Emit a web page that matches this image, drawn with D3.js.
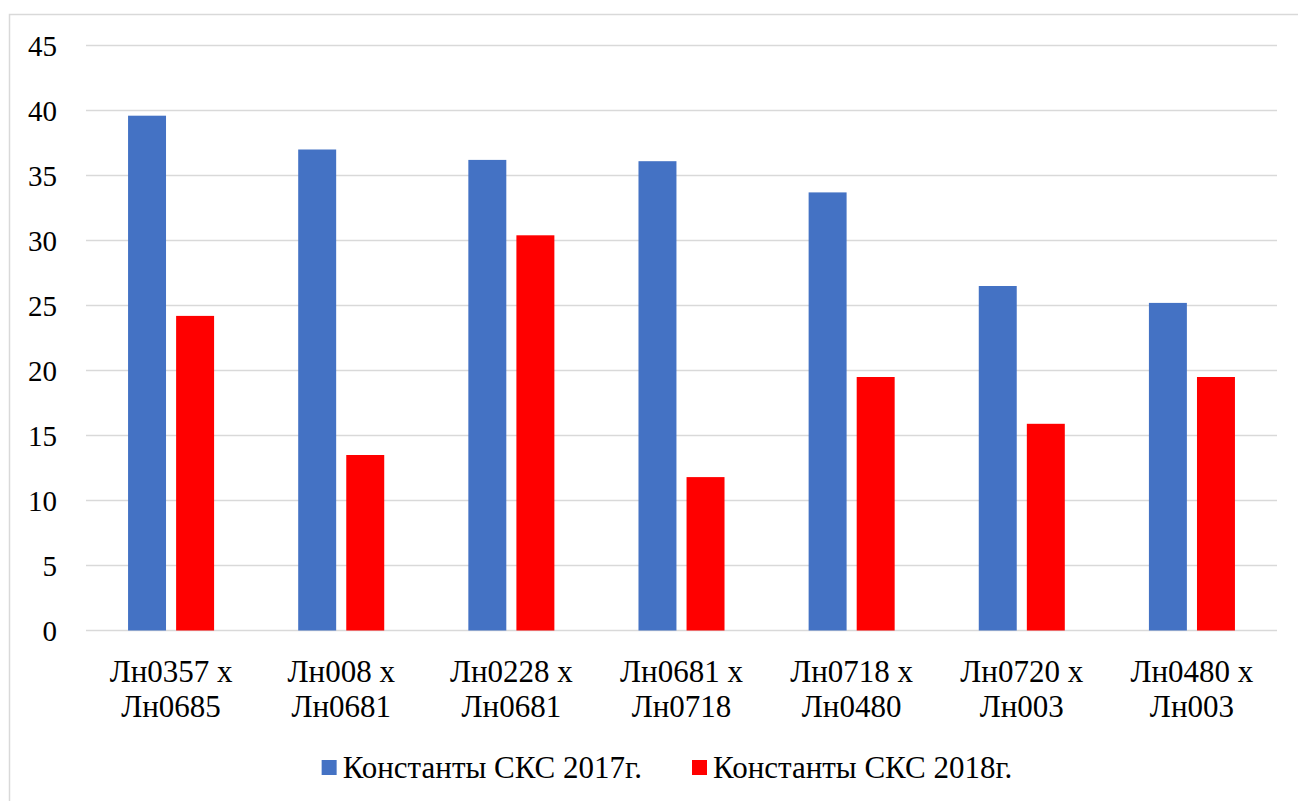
<!DOCTYPE html>
<html>
<head>
<meta charset="utf-8">
<script src="https://cdn.jsdelivr.net/npm/d3@7"></script>
<style>
  html, body { margin: 0; padding: 0; background: #fff; }
  svg { display: block; }
</style>
</head>
<body>
<svg id="chart" width="1298" height="801"></svg>
<script>
// Crosses (two-line labels) and the SCS constants for two seasons
const categories = [
  ["Лн0357 x", "Лн0685"],
  ["Лн008 x", "Лн0681"],
  ["Лн0228 x", "Лн0681"],
  ["Лн0681 x", "Лн0718"],
  ["Лн0718 x", "Лн0480"],
  ["Лн0720 x", "Лн003"],
  ["Лн0480 x", "Лн003"]
];
const seriesNames = ["Константы СКС 2017г.", "Константы СКС 2018г."];
const values2017 = [39.6, 37.0, 36.2, 36.1, 33.7, 26.5, 25.2];
const values2018 = [24.2, 13.5, 30.4, 11.8, 19.5, 15.9, 19.5];
const yTicks = [0, 5, 10, 15, 20, 25, 30, 35, 40, 45];
const colors = ["#4472C4", "#FF0000"];

const svg = d3.select("#chart");

// pick the first serif face that is actually available
function textWidth(family) {
  const t = svg.append("text").attr("font-size", 40).attr("font-family", family)
    .text("Константы 0123456789 Лн");
  const w = t.node().getComputedTextLength();
  t.remove();
  return w;
}
const baseMono = textWidth("monospace");
const candidates = ["Liberation Serif", "Tinos", "Times New Roman", "DejaVu Serif", "Noto Serif", "FreeSerif", "Nimbus Roman", "Times"];
let serifFace = null;
for (const c of candidates) {
  if (Math.abs(textWidth(`'${c}', monospace`) - baseMono) > 0.5) { serifFace = c; break; }
}
const FONT = serifFace ? `'${serifFace}', serif` : "'Liberation Sans', Arial, sans-serif";
const TICK_FS = 29;
const LABEL_FS = 31;

const plotLeft = 86, plotRight = 1277, plotTop = 45.5, plotBottom = 630.5;

// outer chart frame
svg.append("rect")
  .attr("x", 9.5).attr("y", 14.5)
  .attr("width", 1300).attr("height", 800)
  .attr("fill", "none").attr("stroke", "#D9D9D9").attr("stroke-width", 1.5);

const keys = categories.map((c, i) => i);
const x = d3.scaleBand().domain(keys).range([plotLeft, plotRight]).paddingInner(0).paddingOuter(0);
const x1 = d3.scaleBand().domain(seriesNames).range([0, x.bandwidth()])
  .paddingInner(0.21).paddingOuter(0.875);
const y = d3.scaleLinear().domain([0, 45]).range([plotBottom, plotTop]);

// horizontal gridlines
svg.append("g").selectAll("line").data(yTicks).join("line")
  .attr("x1", plotLeft).attr("x2", plotRight)
  .attr("y1", d => y(d)).attr("y2", d => y(d))
  .attr("stroke", "#D9D9D9").attr("stroke-width", 1.5);

// y-axis tick labels
svg.append("g").selectAll("text").data(yTicks).join("text")
  .attr("x", 57).attr("y", d => y(d) + 10.5)
  .attr("text-anchor", "end")
  .attr("font-family", FONT).attr("font-size", TICK_FS)
  .text(d => d);

// bars
const seriesData = [values2017, values2018];
seriesNames.forEach((name, s) => {
  svg.append("g").selectAll("rect").data(seriesData[s]).join("rect")
    .attr("x", (d, i) => x(i) + x1(name))
    .attr("width", x1.bandwidth())
    .attr("y", d => y(d))
    .attr("height", d => y(0) - y(d))
    .attr("fill", colors[s]);
});

// category labels (two lines)
const cat = svg.append("g").selectAll("text").data(categories).join("text")
  .attr("text-anchor", "middle")
  .attr("font-family", FONT).attr("font-size", LABEL_FS);
cat.each(function(d, i) {
  const t = d3.select(this);
  const cx = x(i) + x.bandwidth() / 2;
  t.append("tspan").attr("x", cx).attr("y", 682).text(d[0]);
  t.append("tspan").attr("x", cx).attr("y", 717).text(d[1]);
});

// legend
const legend = svg.append("g");
const items = seriesNames.map((name, s) => {
  const g = legend.append("g");
  g.append("rect").attr("x", 0).attr("y", 760).attr("width", 15).attr("height", 15).attr("fill", colors[s]);
  const t = g.append("text").attr("x", 21).attr("y", 778)
    .attr("font-family", FONT).attr("font-size", LABEL_FS).text(name);
  return { g, w: 21 + t.node().getComputedTextLength() };
});
const gap = 50;
const total = items.reduce((a, b) => a + b.w, 0) + gap * (items.length - 1);
let lx = 667 - total / 2;
items.forEach(it => { it.g.attr("transform", `translate(${lx},0)`); lx += it.w + gap; });
</script>
</body>
</html>
